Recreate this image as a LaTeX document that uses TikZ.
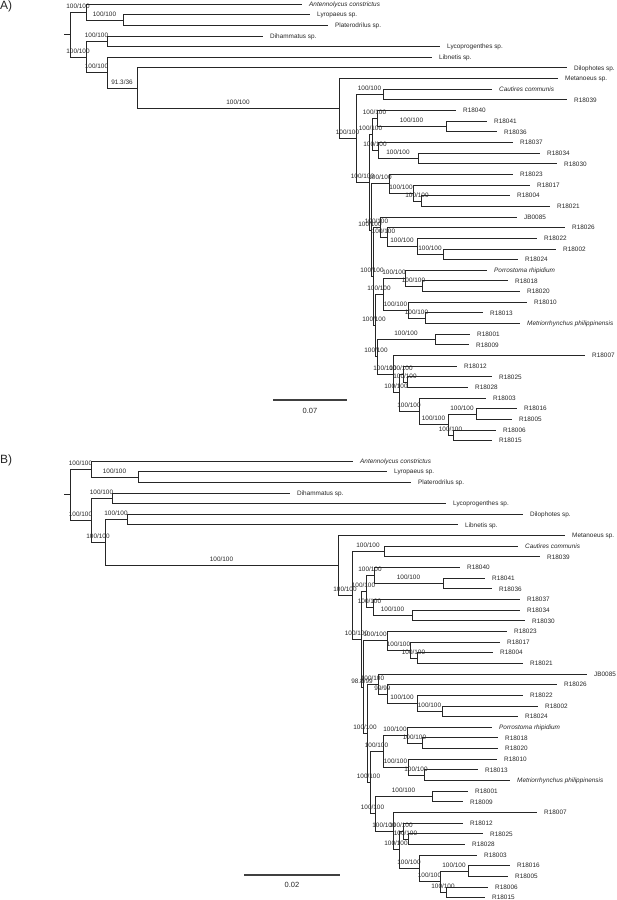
\documentclass[tikz,border=0pt]{standalone}
\usepackage{fontspec}
\setmainfont{Liberation Sans}
\begin{document}
\begin{tikzpicture}[x=1pt,y=-1pt,
  br/.style={draw=black!85,line width=0.9pt},
  lf/.style={br,shorten >=7pt},
  tip/.style={anchor=west,inner sep=0pt,font=\fontsize{6.4}{7}\selectfont,text=black!85,text height=5pt,text depth=0.5pt},
  lab/.style={font=\fontsize{6.4}{7}\selectfont,text=black!85,inner sep=0pt,text height=4.6pt,text depth=0pt,above=3.5pt},
  sbar/.style={draw=black!75,line width=1.3pt},
  sblab/.style={font=\fontsize{7.5}{8}\selectfont,text=black!85,inner sep=0pt},
  plab/.style={font=\fontsize{12}{14}\selectfont,text=black!85,anchor=base west,inner sep=0pt}
]
\useasboundingbox (0,0) rectangle (617,900);

% ================= Panel A =================
\node[plab] (pA) at (0,9.8) {A)};
\coordinate (aR) at (70,34.5);
\coordinate (aTick) at (64,34.5);
\coordinate (aN1) at (86,11.99);
\coordinate (aN2) at (123,19.98);
\coordinate (aN3) at (86,57.0);
\coordinate (aN4) at (107,41.28);
\coordinate (aN5) at (107,72.72);
\coordinate (aN6) at (137,88.18);
\coordinate (aN7) at (339,108.46);
\coordinate (aN8) at (356,138.38);
\coordinate (aN9) at (383,94.53);
\coordinate (aX) at (369,182.22);
\coordinate (aNY) at (372,134.46);
\coordinate (aNA) at (377,118.49);
\coordinate (aNC) at (446,126.48);
\coordinate (aNB) at (378,150.44);
\coordinate (aND) at (418,158.43);
\coordinate (aW) at (371,229.98);
\coordinate (aZ1) at (389,183.72);
\coordinate (aZ1b) at (413,193.04);
\coordinate (aZ1c) at (421,201.03);
\coordinate (aLd) at (373,276.24);
\coordinate (aJB) at (380,226.99);
\coordinate (aJBb) at (387,236.97);
\coordinate (aJBc) at (417,246.29);
\coordinate (aJBd) at (443,254.28);
\coordinate (aM) at (375,325.5);
\coordinate (aPR) at (383,294.21);
\coordinate (aPo) at (405,278.24);
\coordinate (aPob) at (422,286.23);
\coordinate (aRa) at (408,310.19);
\coordinate (aRb) at (425,318.18);
\coordinate (aK) at (377,356.78);
\coordinate (aK1) at (435,339.48);
\coordinate (aQ7) at (393,374.09);
\coordinate (aRR) at (399,392.73);
\coordinate (aP) at (403,374.09);
\coordinate (aQ) at (407,382.08);
\coordinate (aS) at (419,411.37);
\coordinate (aT) at (448,424.68);
\coordinate (aU) at (476,414.03);
\coordinate (aV) at (453,435.33);

\node[tip] (aL0) at (309,4.00) {\itshape Antennolycus constrictus};
\node[tip] (aL1) at (317,14.65) {Lyropaeus sp.};
\node[tip] (aL2) at (335,25.30) {Platerodrilus sp.};
\node[tip] (aL3) at (270,35.95) {Dihammatus sp.};
\node[tip] (aL4) at (447,46.60) {Lycoprogenthes sp.};
\node[tip] (aL5) at (439,57.25) {Libnetis sp.};
\node[tip] (aL6) at (574,67.90) {Dilophotes sp.};
\node[tip] (aL7) at (565,78.55) {Metanoeus sp.};
\node[tip] (aL8) at (499,89.20) {\itshape Cautires communis};
\node[tip] (aL9) at (574,99.85) {R18039};
\node[tip] (aL10) at (463,110.50) {R18040};
\node[tip] (aL11) at (494,121.15) {R18041};
\node[tip] (aL12) at (504,131.80) {R18036};
\node[tip] (aL13) at (520,142.45) {R18037};
\node[tip] (aL14) at (547,153.10) {R18034};
\node[tip] (aL15) at (564,163.75) {R18030};
\node[tip] (aL16) at (520,174.40) {R18023};
\node[tip] (aL17) at (537,185.05) {R18017};
\node[tip] (aL18) at (517,195.70) {R18004};
\node[tip] (aL19) at (557,206.35) {R18021};
\node[tip] (aL20) at (524,217.00) {JB0085};
\node[tip] (aL21) at (572,227.65) {R18026};
\node[tip] (aL22) at (544,238.30) {R18022};
\node[tip] (aL23) at (563,248.95) {R18002};
\node[tip] (aL24) at (525,259.60) {R18024};
\node[tip] (aL25) at (494,270.25) {\itshape Porrostoma rhipidium};
\node[tip] (aL26) at (515,280.90) {R18018};
\node[tip] (aL27) at (527,291.55) {R18020};
\node[tip] (aL28) at (534,302.20) {R18010};
\node[tip] (aL29) at (490,312.85) {R18013};
\node[tip] (aL30) at (527,323.50) {\itshape Metriorrhynchus philippinensis};
\node[tip] (aL31) at (477,334.15) {R18001};
\node[tip] (aL32) at (476,344.80) {R18009};
\node[tip] (aL33) at (592,355.45) {R18007};
\node[tip] (aL34) at (464,366.10) {R18012};
\node[tip] (aL35) at (499,376.75) {R18025};
\node[tip] (aL36) at (475,387.40) {R18028};
\node[tip] (aL37) at (493,398.05) {R18003};
\node[tip] (aL38) at (524,408.70) {R18016};
\node[tip] (aL39) at (519,419.35) {R18005};
\node[tip] (aL40) at (503,430.00) {R18006};
\node[tip] (aL41) at (499,440.65) {R18015};

\draw[br] (aTick) -- (aR);
\draw[br] (aR) |- node[lab,pos=.75]{100/100} (aN1);
\draw[br] (aR) |- node[lab,pos=.75]{100/100} (aN3);
\draw[lf] (aN1) |- (aL0.west);
\draw[br] (aN1) |- node[lab,pos=.75]{100/100} (aN2);
\draw[lf] (aN2) |- (aL1.west);
\draw[lf] (aN2) |- (aL2.west);
\draw[br] (aN3) |- node[lab,pos=.75]{100/100} (aN4);
\draw[br] (aN3) |- node[lab,pos=.75]{100/100} (aN5);
\draw[lf] (aN4) |- (aL3.west);
\draw[lf] (aN4) |- (aL4.west);
\draw[lf] (aN5) |- (aL5.west);
\draw[br] (aN5) |- node[lab,pos=.75]{91.3/36} (aN6);
\draw[lf] (aN6) |- (aL6.west);
\draw[br] (aN6) |- node[lab,pos=.75]{100/100} (aN7);
\draw[lf] (aN7) |- (aL7.west);
\draw[br] (aN7) |- node[lab,pos=.75]{100/100} (aN8);
\draw[br] (aN8) |- node[lab,pos=.75]{100/100} (aN9);
\draw[br] (aN8) |- node[lab,pos=.75]{100/100} (aX);
\draw[lf] (aN9) |- (aL8.west);
\draw[lf] (aN9) |- (aL9.west);
\draw[br] (aX) |- node[lab,pos=.75]{100/100} (aNY);
\draw[br] (aX) |- node[lab,pos=.75]{100/100} (aW);
\draw[br] (aNY) |- node[lab,pos=.75]{100/100} (aNA);
\draw[br] (aNY) |- node[lab,pos=.75]{100/100} (aNB);
\draw[lf] (aNA) |- (aL10.west);
\draw[br] (aNA) |- node[lab,pos=.75]{100/100} (aNC);
\draw[lf] (aNC) |- (aL11.west);
\draw[lf] (aNC) |- (aL12.west);
\draw[lf] (aNB) |- (aL13.west);
\draw[br] (aNB) |- node[lab,pos=.75]{100/100} (aND);
\draw[lf] (aND) |- (aL14.west);
\draw[lf] (aND) |- (aL15.west);
\draw[br] (aW) |- node[lab,pos=.75]{100/100} (aZ1);
\draw[br] (aW) |- node[lab,pos=.75]{100/100} (aLd);
\draw[lf] (aZ1) |- (aL16.west);
\draw[br] (aZ1) |- node[lab,pos=.75]{100/100} (aZ1b);
\draw[lf] (aZ1b) |- (aL17.west);
\draw[br] (aZ1b) |- node[lab,pos=.75]{100/100} (aZ1c);
\draw[lf] (aZ1c) |- (aL18.west);
\draw[lf] (aZ1c) |- (aL19.west);
\draw[br] (aLd) |- node[lab,pos=.75]{100/100} (aJB);
\draw[br] (aLd) |- node[lab,pos=.75]{100/100} (aM);
\draw[lf] (aJB) |- (aL20.west);
\draw[br] (aJB) |- node[lab,pos=.75]{100/100} (aJBb);
\draw[lf] (aJBb) |- (aL21.west);
\draw[br] (aJBb) |- node[lab,pos=.75]{100/100} (aJBc);
\draw[lf] (aJBc) |- (aL22.west);
\draw[br] (aJBc) |- node[lab,pos=.75]{100/100} (aJBd);
\draw[lf] (aJBd) |- (aL23.west);
\draw[lf] (aJBd) |- (aL24.west);
\draw[br] (aM) |- node[lab,pos=.75]{100/100} (aPR);
\draw[br] (aM) |- node[lab,pos=.75]{100/100} (aK);
\draw[br] (aPR) |- node[lab,pos=.75]{100/100} (aPo);
\draw[br] (aPR) |- node[lab,pos=.75]{100/100} (aRa);
\draw[lf] (aPo) |- (aL25.west);
\draw[br] (aPo) |- node[lab,pos=.75]{100/100} (aPob);
\draw[lf] (aPob) |- (aL26.west);
\draw[lf] (aPob) |- (aL27.west);
\draw[lf] (aRa) |- (aL28.west);
\draw[br] (aRa) |- node[lab,pos=.75]{100/100} (aRb);
\draw[lf] (aRb) |- (aL29.west);
\draw[lf] (aRb) |- (aL30.west);
\draw[br] (aK) |- node[lab,pos=.75]{100/100} (aK1);
\draw[br] (aK) |- node[lab,pos=.75]{100/100} (aQ7);
\draw[lf] (aK1) |- (aL31.west);
\draw[lf] (aK1) |- (aL32.west);
\draw[lf] (aQ7) |- (aL33.west);
\draw[br] (aQ7) |- node[lab,pos=.75]{100/100} (aRR);
\draw[br] (aRR) |- node[lab,pos=.75]{100/100} (aP);
\draw[br] (aRR) |- node[lab,pos=.75]{100/100} (aS);
\draw[lf] (aP) |- (aL34.west);
\draw[br] (aP) |- node[lab,pos=.75]{100/100} (aQ);
\draw[lf] (aQ) |- (aL35.west);
\draw[lf] (aQ) |- (aL36.west);
\draw[lf] (aS) |- (aL37.west);
\draw[br] (aS) |- node[lab,pos=.75]{100/100} (aT);
\draw[br] (aT) |- node[lab,pos=.75]{100/100} (aU);
\draw[br] (aT) |- node[lab,pos=.75]{100/100} (aV);
\draw[lf] (aU) |- (aL38.west);
\draw[lf] (aU) |- (aL39.west);
\draw[lf] (aV) |- (aL40.west);
\draw[lf] (aV) |- (aL41.west);

\coordinate (aSb1) at (273,400);
\coordinate (aSb2) at (347,400);
\draw[sbar] (aSb1) -- (aSb2);
\node[sblab] (aSbl) at (310,411) {0.07};

% ================= Panel B =================
\node[plab] (pB) at (0,463) {B)};
\coordinate (bR) at (70,494.7);
\coordinate (bTick) at (64,494.7);
\coordinate (bN1) at (91,468.99);
\coordinate (bN2) at (138,476.98);
\coordinate (bN3) at (91,520.4);
\coordinate (bN4) at (112,498.28);
\coordinate (bN5) at (105,542.52);
\coordinate (bDL) at (127,519.58);
\coordinate (bN7) at (338,565.46);
\coordinate (bN8) at (352,595.38);
\coordinate (bN9) at (384,551.53);
\coordinate (bX) at (361,639.22);
\coordinate (bNY) at (366,591.46);
\coordinate (bNA) at (374,575.49);
\coordinate (bNC) at (443,583.48);
\coordinate (bNB) at (373,607.44);
\coordinate (bND) at (412,615.43);
\coordinate (bW) at (363,686.98);
\coordinate (bZ1) at (387,640.72);
\coordinate (bZ1b) at (410,650.04);
\coordinate (bZ1c) at (417,658.03);
\coordinate (bLd) at (367,733.24);
\coordinate (bJB) at (378,683.99);
\coordinate (bJBb) at (387,693.97);
\coordinate (bJBc) at (417,703.29);
\coordinate (bJBd) at (442,711.28);
\coordinate (bM) at (370,782.5);
\coordinate (bPR) at (383,751.21);
\coordinate (bPo) at (407,735.24);
\coordinate (bPob) at (422,743.23);
\coordinate (bRa) at (408,767.19);
\coordinate (bRb) at (424,775.18);
\coordinate (bK) at (375,813.78);
\coordinate (bK1) at (432,796.48);
\coordinate (bQ7) at (393,831.09);
\coordinate (bRR) at (399,849.73);
\coordinate (bP) at (403,831.09);
\coordinate (bQ) at (408,839.08);
\coordinate (bS) at (419,868.37);
\coordinate (bT) at (440,881.68);
\coordinate (bU) at (468,871.03);
\coordinate (bV) at (446,892.33);

\node[tip] (bL0) at (360,461.00) {\itshape Antennolycus constrictus};
\node[tip] (bL1) at (394,471.65) {Lyropaeus sp.};
\node[tip] (bL2) at (418,482.30) {Platerodrilus sp.};
\node[tip] (bL3) at (297,492.95) {Dihammatus sp.};
\node[tip] (bL4) at (453,503.60) {Lycoprogenthes sp.};
\node[tip] (bL5) at (530,514.25) {Dilophotes sp.};
\node[tip] (bL6) at (465,524.90) {Libnetis sp.};
\node[tip] (bL7) at (572,535.55) {Metanoeus sp.};
\node[tip] (bL8) at (525,546.20) {\itshape Cautires communis};
\node[tip] (bL9) at (547,556.85) {R18039};
\node[tip] (bL10) at (467,567.50) {R18040};
\node[tip] (bL11) at (492,578.15) {R18041};
\node[tip] (bL12) at (499,588.80) {R18036};
\node[tip] (bL13) at (527,599.45) {R18037};
\node[tip] (bL14) at (527,610.10) {R18034};
\node[tip] (bL15) at (532,620.75) {R18030};
\node[tip] (bL16) at (514,631.40) {R18023};
\node[tip] (bL17) at (507,642.05) {R18017};
\node[tip] (bL18) at (500,652.70) {R18004};
\node[tip] (bL19) at (530,663.35) {R18021};
\node[tip] (bL20) at (594,674.00) {JB0085};
\node[tip] (bL21) at (564,684.65) {R18026};
\node[tip] (bL22) at (530,695.30) {R18022};
\node[tip] (bL23) at (545,705.95) {R18002};
\node[tip] (bL24) at (525,716.60) {R18024};
\node[tip] (bL25) at (499,727.25) {\itshape Porrostoma rhipidium};
\node[tip] (bL26) at (505,737.90) {R18018};
\node[tip] (bL27) at (505,748.55) {R18020};
\node[tip] (bL28) at (504,759.20) {R18010};
\node[tip] (bL29) at (485,769.85) {R18013};
\node[tip] (bL30) at (517,780.50) {\itshape Metriorrhynchus philippinensis};
\node[tip] (bL31) at (475,791.15) {R18001};
\node[tip] (bL32) at (470,801.80) {R18009};
\node[tip] (bL33) at (544,812.45) {R18007};
\node[tip] (bL34) at (470,823.10) {R18012};
\node[tip] (bL35) at (490,833.75) {R18025};
\node[tip] (bL36) at (472,844.40) {R18028};
\node[tip] (bL37) at (484,855.05) {R18003};
\node[tip] (bL38) at (517,865.70) {R18016};
\node[tip] (bL39) at (515,876.35) {R18005};
\node[tip] (bL40) at (495,887.00) {R18006};
\node[tip] (bL41) at (492,897.65) {R18015};

\draw[br] (bTick) -- (bR);
\draw[br] (bR) |- node[lab,pos=.75]{100/100} (bN1);
\draw[br] (bR) |- node[lab,pos=.75]{100/100} (bN3);
\draw[lf] (bN1) |- (bL0.west);
\draw[br] (bN1) |- node[lab,pos=.75]{100/100} (bN2);
\draw[lf] (bN2) |- (bL1.west);
\draw[lf] (bN2) |- (bL2.west);
\draw[br] (bN3) |- node[lab,pos=.75]{100/100} (bN4);
\draw[br] (bN3) |- node[lab,pos=.75]{100/100} (bN5);
\draw[lf] (bN4) |- (bL3.west);
\draw[lf] (bN4) |- (bL4.west);
\draw[br] (bN5) |- node[lab,pos=.75]{100/100} (bDL);
\draw[br] (bN5) |- node[lab,pos=.75]{100/100} (bN7);
\draw[lf] (bDL) |- (bL5.west);
\draw[lf] (bDL) |- (bL6.west);
\draw[lf] (bN7) |- (bL7.west);
\draw[br] (bN7) |- node[lab,pos=.75]{100/100} (bN8);
\draw[br] (bN8) |- node[lab,pos=.75]{100/100} (bN9);
\draw[br] (bN8) |- node[lab,pos=.75]{100/100} (bX);
\draw[lf] (bN9) |- (bL8.west);
\draw[lf] (bN9) |- (bL9.west);
\draw[br] (bX) |- node[lab,pos=.75]{100/100} (bNY);
\draw[br] (bX) |- node[lab,pos=.75]{98.8/99} (bW);
\draw[br] (bNY) |- node[lab,pos=.75]{100/100} (bNA);
\draw[br] (bNY) |- node[lab,pos=.75]{100/100} (bNB);
\draw[lf] (bNA) |- (bL10.west);
\draw[br] (bNA) |- node[lab,pos=.75]{100/100} (bNC);
\draw[lf] (bNC) |- (bL11.west);
\draw[lf] (bNC) |- (bL12.west);
\draw[lf] (bNB) |- (bL13.west);
\draw[br] (bNB) |- node[lab,pos=.75]{100/100} (bND);
\draw[lf] (bND) |- (bL14.west);
\draw[lf] (bND) |- (bL15.west);
\draw[br] (bW) |- node[lab,pos=.75]{100/100} (bZ1);
\draw[br] (bW) |- node[lab,pos=.75]{100/100} (bLd);
\draw[lf] (bZ1) |- (bL16.west);
\draw[br] (bZ1) |- node[lab,pos=.75]{100/100} (bZ1b);
\draw[lf] (bZ1b) |- (bL17.west);
\draw[br] (bZ1b) |- node[lab,pos=.75]{100/100} (bZ1c);
\draw[lf] (bZ1c) |- (bL18.west);
\draw[lf] (bZ1c) |- (bL19.west);
\draw[br] (bLd) |- node[lab,pos=.75]{100/100} (bJB);
\draw[br] (bLd) |- node[lab,pos=.75]{100/100} (bM);
\draw[lf] (bJB) |- (bL20.west);
\draw[br] (bJB) |- node[lab,pos=.75]{99/99} (bJBb);
\draw[lf] (bJBb) |- (bL21.west);
\draw[br] (bJBb) |- node[lab,pos=.75]{100/100} (bJBc);
\draw[lf] (bJBc) |- (bL22.west);
\draw[br] (bJBc) |- node[lab,pos=.75]{100/100} (bJBd);
\draw[lf] (bJBd) |- (bL23.west);
\draw[lf] (bJBd) |- (bL24.west);
\draw[br] (bM) |- node[lab,pos=.75]{100/100} (bPR);
\draw[br] (bM) |- node[lab,pos=.75]{100/100} (bK);
\draw[br] (bPR) |- node[lab,pos=.75]{100/100} (bPo);
\draw[br] (bPR) |- node[lab,pos=.75]{100/100} (bRa);
\draw[lf] (bPo) |- (bL25.west);
\draw[br] (bPo) |- node[lab,pos=.75]{100/100} (bPob);
\draw[lf] (bPob) |- (bL26.west);
\draw[lf] (bPob) |- (bL27.west);
\draw[lf] (bRa) |- (bL28.west);
\draw[br] (bRa) |- node[lab,pos=.75]{100/100} (bRb);
\draw[lf] (bRb) |- (bL29.west);
\draw[lf] (bRb) |- (bL30.west);
\draw[br] (bK) |- node[lab,pos=.75]{100/100} (bK1);
\draw[br] (bK) |- node[lab,pos=.75]{100/100} (bQ7);
\draw[lf] (bK1) |- (bL31.west);
\draw[lf] (bK1) |- (bL32.west);
\draw[lf] (bQ7) |- (bL33.west);
\draw[br] (bQ7) |- node[lab,pos=.75]{100/100} (bRR);
\draw[br] (bRR) |- node[lab,pos=.75]{100/100} (bP);
\draw[br] (bRR) |- node[lab,pos=.75]{100/100} (bS);
\draw[lf] (bP) |- (bL34.west);
\draw[br] (bP) |- node[lab,pos=.75]{100/100} (bQ);
\draw[lf] (bQ) |- (bL35.west);
\draw[lf] (bQ) |- (bL36.west);
\draw[lf] (bS) |- (bL37.west);
\draw[br] (bS) |- node[lab,pos=.75]{100/100} (bT);
\draw[br] (bT) |- node[lab,pos=.75]{100/100} (bU);
\draw[br] (bT) |- node[lab,pos=.75]{100/100} (bV);
\draw[lf] (bU) |- (bL38.west);
\draw[lf] (bU) |- (bL39.west);
\draw[lf] (bV) |- (bL40.west);
\draw[lf] (bV) |- (bL41.west);

\coordinate (bSb1) at (244,875);
\coordinate (bSb2) at (340,875);
\draw[sbar] (bSb1) -- (bSb2);
\node[sblab] (bSbl) at (292,885) {0.02};
\end{tikzpicture}
\end{document}
